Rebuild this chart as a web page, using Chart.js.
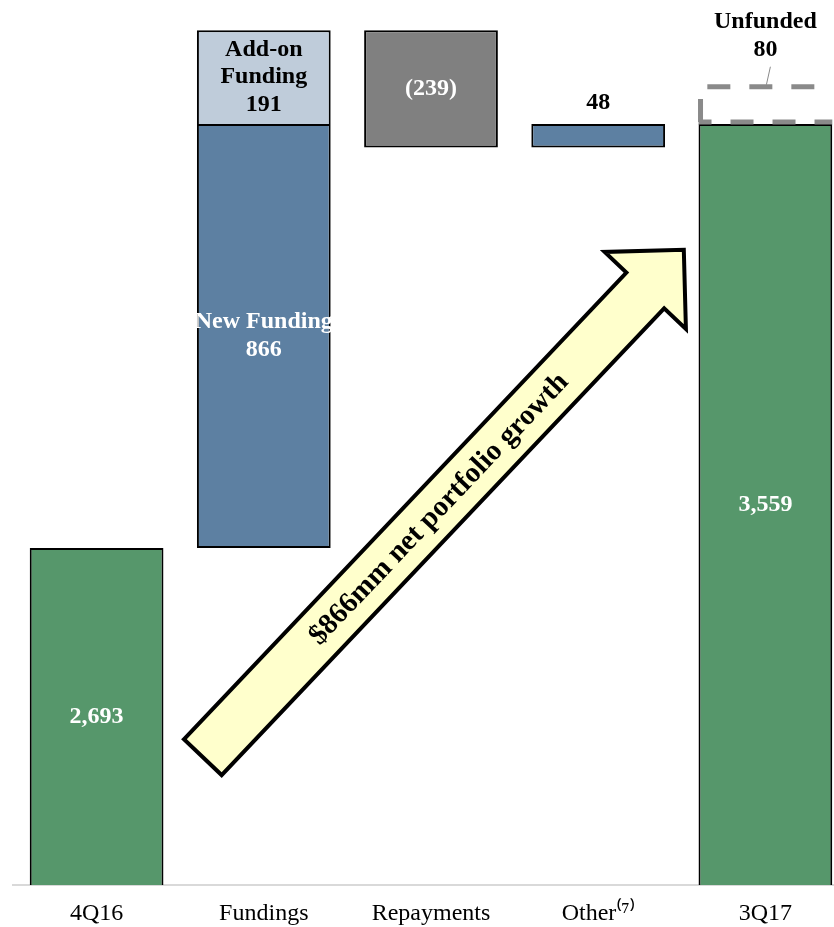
<!DOCTYPE html>
<html>
<head>
<meta charset="utf-8">
<script src="https://cdn.jsdelivr.net/npm/chart.js@4.4.0/dist/chart.umd.min.js"></script>
<style>
  html, body { margin: 0; padding: 0; background: #fff; overflow: hidden; }
  #wrap { width: 850px; height: 927px; }
</style>
</head>
<body>
<div id="wrap"><canvas id="bridge" width="850" height="927"></canvas></div>
<script>
// data ($mm)
const categories = ['4Q16', 'Fundings', 'Repayments', 'Other⁽⁷⁾', '3Q17'];
const openBalance = 2693;
const newFunding = 866;
const addOnFunding = 191;
const repayments = -239;
const otherChange = 48;
const closeBalance = 3559;
const unfunded = 80;
const arrowText = '$866mm net portfolio growth';

// visible part of the value axis
const axisMin = 2005;
const axisMax = 3812;

// running levels of the bridge
const afterNew = openBalance + newFunding;
const afterAddOn = afterNew + addOnFunding;
const afterRepay = afterAddOn + repayments;
const afterOther = afterRepay + otherChange;

const fmt = v => v < 0 ? '(' + Math.abs(v).toLocaleString('en-US') + ')' : v.toLocaleString('en-US');

const SERIF = '"Liberation Serif", "Times New Roman", serif';

// [low, high] of a bar value (plain numbers sit on the axis minimum)
const range = (v, min) => Array.isArray(v) ? [Math.min(v[0], v[1]), Math.max(v[0], v[1])] : [min, v];

// labels in / above the bars
const labelPlugin = {
    id: 'barLabels',
    afterDatasetsDraw(chart) {
        const ctx = chart.ctx, xs = chart.scales.x, ys = chart.scales.y;
        ctx.save();
        ctx.font = 'bold 24px ' + SERIF;
        ctx.textAlign = 'center';
        ctx.textBaseline = 'middle';
        chart.data.datasets.forEach(ds => {
            if (!ds.valueLabels) return;
            ds.data.forEach((v, i) => {
                const lines = ds.valueLabels[i];
                if (v == null || !lines) return;
                const [lo, hi] = range(v, ys.min);
                const x = xs.getPixelForValue(i);
                const top = ys.getPixelForValue(hi), bot = ys.getPixelForValue(lo);
                const lh = 27.5;
                let first;
                if (ds.labelPos === 'above') {
                    first = top - ds.labelGap - (lines.length - 1) * lh;
                } else {
                    first = (top + bot) / 2 - (lines.length - 1) * lh / 2;
                }
                ctx.fillStyle = ds.labelColor;
                lines.forEach((t, k) => ctx.fillText(t, x, first + k * lh));
            });
        });
        ctx.restore();
    }
};

// dashed outline for the unfunded piece
const dashedPlugin = {
    id: 'dashedBox',
    afterDatasetsDraw(chart) {
        const ctx = chart.ctx, ys = chart.scales.y;
        chart.data.datasets.forEach((ds, di) => {
            if (!ds.dashed) return;
            const meta = chart.getDatasetMeta(di);
            ds.data.forEach((v, i) => {
                if (v == null) return;
                const el = meta.data[i];
                const w = el.width;
                const [lo, hi] = range(v, ys.min);
                const x = chart.scales.x.getPixelForValue(i);
                const l = x - w / 2, r = x + w / 2;
                const top = ys.getPixelForValue(hi) + 2, bot = ys.getPixelForValue(lo) - 2;
                ctx.save();
                ctx.strokeStyle = '#8a8a8a';
                ctx.lineWidth = 5;
                ctx.setLineDash([23, 19]);
                ctx.beginPath();
                ctx.moveTo(l + 2, bot);
                ctx.lineTo(l + 2, top);
                ctx.lineTo(r, top);
                ctx.stroke();
                ctx.lineDashOffset = 10;
                ctx.beginPath();
                ctx.moveTo(l, bot);
                ctx.lineTo(r, bot);
                ctx.stroke();
                // leader line to the label
                ctx.setLineDash([]);
                ctx.lineWidth = 1;
                ctx.beginPath();
                ctx.moveTo(x + 5, top - 20);
                ctx.lineTo(x + 1, top - 2);
                ctx.stroke();
                ctx.restore();
            });
        });
    }
};

// growth arrow, anchored in data space
const arrowTail = { x: 0.635, y: 2266 };
const arrowTip = { x: 3.512, y: 3302 };
const arrowPlugin = {
    id: 'growthArrow',
    afterDatasetsDraw(chart) {
        const xs = chart.scales.x, ys = chart.scales.y, ctx = chart.ctx;
        const tx = xs.getPixelForValue(arrowTail.x), ty = ys.getPixelForValue(arrowTail.y);
        const hx = xs.getPixelForValue(arrowTip.x), hy = ys.getPixelForValue(arrowTip.y);
        const len = Math.hypot(hx - tx, hy - ty);
        const ang = Math.atan2(hy - ty, hx - tx);
        const shaftW = 26, headW = 56, headL = 56;
        ctx.save();
        ctx.translate(tx, ty);
        ctx.rotate(ang);
        ctx.beginPath();
        ctx.moveTo(0, -shaftW);
        ctx.lineTo(len - headL, -shaftW);
        ctx.lineTo(len - headL, -headW);
        ctx.lineTo(len, 0);
        ctx.lineTo(len - headL, headW);
        ctx.lineTo(len - headL, shaftW);
        ctx.lineTo(0, shaftW);
        ctx.closePath();
        ctx.fillStyle = '#ffffcc';
        ctx.fill();
        ctx.lineWidth = 4;
        ctx.lineJoin = 'miter';
        ctx.strokeStyle = '#000';
        ctx.stroke();
        ctx.fillStyle = '#000';
        ctx.font = 'bold 29px ' + SERIF;
        ctx.textAlign = 'center';
        ctx.textBaseline = 'middle';
        ctx.fillText(arrowText, len * 0.49, 1);
        ctx.restore();
    }
};

const none = [null, null, null, null, null];
const at = (i, v) => none.map((n, k) => k === i ? v : null);

new Chart(document.getElementById('bridge'), {
    type: 'bar',
    data: {
        labels: categories,
        datasets: [
            {
                data: [openBalance, null, null, null, closeBalance],
                backgroundColor: '#56976b',
                valueLabels: [[fmt(openBalance)], null, null, null, [fmt(closeBalance)]],
                labelColor: '#fff'
            },
            {
                data: at(1, [openBalance, afterNew]),
                backgroundColor: '#5d80a2',
                valueLabels: at(1, ['New Funding', fmt(newFunding)]),
                labelColor: '#fff'
            },
            {
                data: at(1, [afterNew, afterAddOn]),
                backgroundColor: '#bfccda',
                borderSkipped: 'start',
                valueLabels: at(1, ['Add-on', 'Funding', fmt(addOnFunding)]),
                labelColor: '#000'
            },
            {
                data: at(2, [afterRepay, afterAddOn]),
                backgroundColor: '#808080',
                valueLabels: at(2, [fmt(repayments)]),
                labelColor: '#fff'
            },
            {
                data: at(3, [afterRepay, afterOther]),
                backgroundColor: '#5d80a2',
                valueLabels: at(3, [fmt(otherChange)]),
                labelColor: '#000',
                labelPos: 'above',
                labelGap: 21
            },
            {
                data: at(4, [closeBalance, closeBalance + unfunded]),
                backgroundColor: 'rgba(0,0,0,0)',
                borderWidth: 0,
                dashed: true,
                valueLabels: at(4, ['Unfunded', fmt(unfunded)]),
                labelColor: '#000',
                labelPos: 'above',
                labelGap: 35
            }
        ]
    },
    options: {
        responsive: false,
        animation: false,
        layout: { padding: { left: 13, right: 1, top: 0, bottom: 0 } },
        datasets: {
            bar: {
                grouped: false,
                barPercentage: 0.8,
                categoryPercentage: 1,
                borderColor: '#000',
                borderWidth: 2,
                borderSkipped: false
            }
        },
        plugins: {
            legend: { display: false },
            tooltip: { enabled: false }
        },
        scales: {
            x: {
                grid: { display: false, drawTicks: false },
                border: { display: true, color: '#d9d9d9', width: 2 },
                ticks: {
                    color: '#000',
                    padding: 14,
                    font: { family: SERIF, size: 24 }
                },
                afterFit(scale) { scale.height = 42; }
            },
            y: {
                display: false,
                min: axisMin,
                max: axisMax
            }
        }
    },
    plugins: [labelPlugin, dashedPlugin, arrowPlugin]
});
</script>
</body>
</html>
